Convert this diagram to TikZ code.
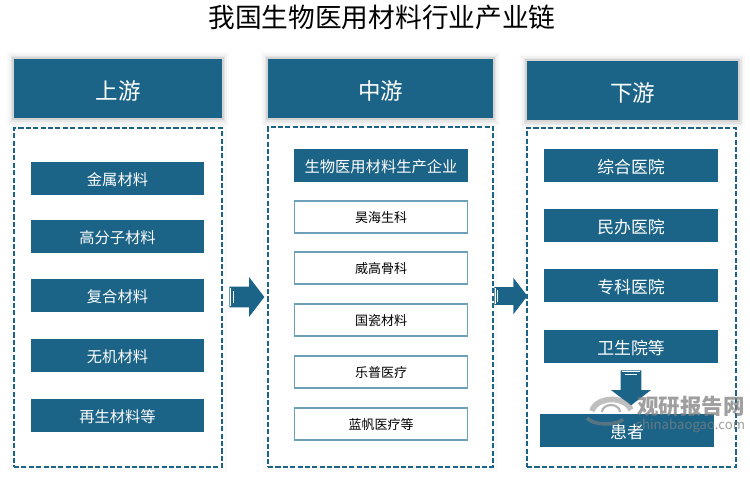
\documentclass[tikz,border=0pt]{standalone}
\usepackage{fontspec}
\setmainfont{Noto Sans CJK SC}
\usepackage{xcolor}
\usetikzlibrary{calc,shapes.arrows}
\definecolor{boxblue}{HTML}{1B6488}
\definecolor{lineblue}{HTML}{6C9FB8}
\tikzset{
	softshadow/.style={preaction={draw=black,opacity=.02,line width=8pt},preaction={draw=black,opacity=.03,line width=6pt},preaction={draw=black,opacity=.05,line width=4pt},preaction={draw=black,opacity=.08,line width=2pt}},
	headbox/.style={fill=boxblue,text=white,inner sep=0pt,minimum height=1.18cm,font=\fontsize{12.8}{15}\selectfont,text height=14.1pt,text depth=1.5pt,softshadow},
	dashbox/.style={draw=boxblue,fill=white,line width=.9pt,dash pattern=on 2.9pt off 1.3pt,inner sep=0pt,preaction={draw=black,solid,opacity=.02,line width=6pt}},
	itembox/.style={fill=boxblue,text=white,inner sep=0pt,minimum width=3.48cm,minimum height=.66cm,font=\fontsize{8.7}{10}\selectfont,text height=9.1pt,text depth=1.2pt},
	downbox/.style={itembox,font=\fontsize{9.6}{11}\selectfont,text height=10.1pt},
	whitebox/.style={draw=lineblue,fill=white,line width=.6pt,inner sep=0pt,minimum width=3.46cm,minimum height=.64cm,font=\fontsize{7.4}{9}\selectfont,text height=7.6pt,text depth=1pt},
	blockarrow/.style={single arrow,fill=boxblue,inner sep=.2cm,anchor=tail,minimum height=.7cm,single arrow head extend=.19cm,single arrow tip angle=105},
	stripe/.style={draw=white,line width=.5pt},
	mark text/.style={text=gray,opacity=.75,inner sep=0pt},
}
\begin{document}
\begin{tikzpicture}[x=0.02cm,y=-0.02cm]
\useasboundingbox (0,0) rectangle (750,478);
\node[inner sep=0pt,font=\fontsize{15.2}{18}\selectfont] (title) at (382,17){我国生物医用材料行业产业链};
% columns
\node[dashbox,minimum width=4.16cm,minimum height=6.78cm] (upbox) at (118,297.5){};
\node[dashbox,minimum width=4.5cm,minimum height=6.8cm] (midbox) at (380.5,297){};
\node[dashbox,minimum width=4.18cm,minimum height=6.78cm] (downbox) at (631.5,297.5){};
\node[headbox,minimum width=4.16cm] (uphead) at (118,88.5){上游};
\node[headbox,minimum width=4.5cm] (midhead) at (380.5,88.5){中游};
\node[headbox,minimum width=4.22cm] (downhead) at (632.5,90.5){下游};
% upstream
\foreach \i/\y/\t in {1/178.5/金属材料,2/236.5/高分子材料,3/295.5/复合材料,4/355.5/无机材料,5/415.5/再生材料等}{
	\node[itembox] (up\i) at (117.5,\y){\t};
	}
% midstream
\node[itembox] (midtop) at (381,165.5){生物医用材料生产企业};
\foreach \i/\y/\t in {1/217/昊海生科,2/268/威高骨科,3/320/国瓷材料,4/372/乐普医疗,5/424/蓝帆医疗等}{
	\node[whitebox] (mid\i) at (381,\y){\t};
	}
% downstream
\foreach \i/\y/\t in {1/165.5/综合医院,2/225.5/民办医院,3/285.5/专科医院,4/346.5/卫生院等}{
	\node[downbox] (down\i) at (631,\y){\t};
	}
\node[downbox] (patient) at (627,430.5){患者};
% arrows
\node[blockarrow] (arrowa) at (229,297){};
\node[blockarrow,inner sep=.17cm,minimum height=.66cm] (arrowb) at (494,296){};
\node[blockarrow,shape border rotate=270] (arrowc) at (631,370){};
\foreach \n in {arrowa,arrowb,arrowc}{
	\draw[stripe] ($(\n.before tail)!.07!(\n.before head)$) -- ($(\n.after tail)!.07!(\n.after head)$);
	\draw[stripe] ($(\n.before tail)!.2!(\n.before head)$) -- ($(\n.after tail)!.2!(\n.after head)$);
	}
% watermark
\draw[gray,opacity=.5,line width=3.2pt] (592,411) arc (-170:-15:20 and 14);
\draw[gray,opacity=.6,line width=2pt] (587,418) arc (160:30:20 and 9);
\draw[gray,opacity=.6,line width=1.2pt] (602,412) arc (180:360:9 and 7);
\node[mark text,font=\fontsize{12.2}{15}\bfseries\selectfont,anchor=west] (markcn) at (637,406){观研报告网};
\node[mark text,font=\fontsize{7.5}{10}\selectfont,anchor=west] (markurl) at (635,426){chinabaogao.com};
\end{tikzpicture}
\end{document}
